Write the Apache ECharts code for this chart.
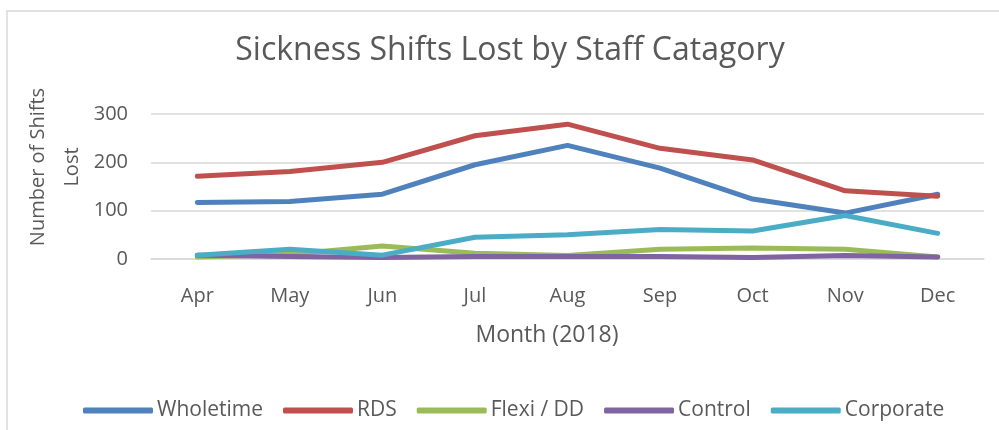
<!DOCTYPE html>
<html>
<head>
<meta charset="utf-8">
<script src="https://cdn.jsdelivr.net/npm/echarts@6/dist/echarts.min.js"></script>
<style>
  html, body { margin: 0; padding: 0; background: #fff; }
  #chart { width: 999px; height: 430px; }
</style>
</head>
<body>
<div id="chart"></div>
<script>
// 数据
const months = ["Apr", "May", "Jun", "Jul", "Aug", "Sep", "Oct", "Nov", "Dec"];
const wholetime = [117, 119, 134, 195, 235, 188, 124, 95, 134];
const rds = [171, 181, 200, 255, 279, 229, 205, 141, 130];
const flexi = [4, 10, 27, 12, 7, 20, 23, 20, 4];
const control = [8, 5, 3, 5, 5, 5, 3, 7, 4];
const corporate = [8, 20, 8, 45, 50, 61, 58, 90, 53];
const yTicks = [0, 100, 200, 300];

const FONT = "Open Sans";
const GREY = "#595959";

let chart = echarts.init(document.getElementById("chart"));

function line(name, data, color) {
  return {
    name: name,
    type: "line",
    data: data,
    symbol: "none",
    lineStyle: { width: 5, color: color, cap: "round", join: "round" },
    itemStyle: { color: color }
  };
}

let option = {
  animation: false,
  textStyle: { fontFamily: FONT },
  title: {
    text: "Sickness Shifts Lost by Staff Catagory",
    left: 505,
    textAlign: "center",
    top: 30,
    textStyle: { fontFamily: FONT, fontSize: 32, fontWeight: "normal", color: GREY }
  },
  graphic: [
    { // 外框
      type: "rect",
      shape: { x: 7, y: 11, width: 1000, height: 430 },
      style: { fill: "none", stroke: "#d9d9d9", lineWidth: 1.5 },
      silent: true
    },
    {
      type: "text",
      x: 55, y: 167,
      rotation: Math.PI / 2,
      style: {
        text: "Number of Shifts\nLost",
        fontFamily: FONT, fontSize: 20, fill: GREY,
        align: "center", verticalAlign: "middle", lineHeight: 34
      }
    },
    {
      type: "text",
      x: 547, y: 335,
      style: {
        text: "Month (2018)",
        fontFamily: FONT, fontSize: 23, fill: GREY,
        align: "center", verticalAlign: "middle"
      }
    }
  ],
  legend: {
    left: 78,
    top: 395,
    icon: "roundRect",
    itemWidth: 70,
    itemHeight: 6,
    itemGap: 20,
    textStyle: { fontFamily: FONT, fontSize: 21, color: GREY, padding: [0, 0, 0, -1] }
  },
  grid: { left: 151, right: 15, top: 114, bottom: 171 },
  xAxis: {
    type: "category",
    data: months,
    boundaryGap: true,
    axisLine: { lineStyle: { color: "#d9d9d9", width: 1.5 } },
    axisTick: { show: false },
    axisLabel: { fontFamily: FONT, fontSize: 20, color: GREY, margin: 27 }
  },
  yAxis: {
    type: "value",
    min: yTicks[0],
    max: yTicks[yTicks.length - 1],
    interval: 100,
    axisLine: { show: false },
    axisTick: { show: false },
    axisLabel: { fontFamily: FONT, fontSize: 20, color: GREY, margin: 23 },
    splitLine: { lineStyle: { color: "#d9d9d9", width: 1.5 } }
  },
  series: [
    line("Wholetime", wholetime, "#4f81bd"),
    line("RDS", rds, "#c0504d"),
    line("Flexi / DD", flexi, "#9bbb59"),
    line("Control", control, "#8064a2"),
    line("Corporate", corporate, "#4bacc6")
  ]
};
chart.setOption(option);
</script>
</body>
</html>
